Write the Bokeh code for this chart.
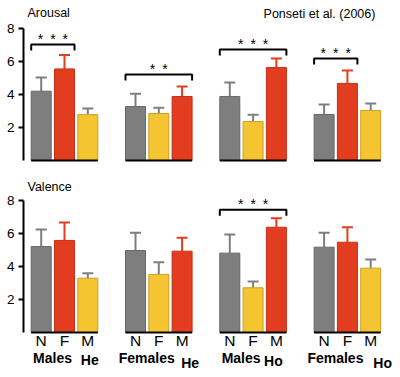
from bokeh.plotting import figure
from bokeh.layouts import column
from bokeh.models import Range1d, FixedTicker
from bokeh.core.properties import value
from bokeh.embed import file_html
from bokeh.resources import INLINE

# ---------------- data ----------------
conditions = ["N", "F", "M"]
groups = ["Males", "Females", "Males", "Females"]
stimuli = ["He", "He", "Ho", "Ho"]
# colour role of each bar (N, F, M) inside each group
bar_kind = [["gray", "red", "yellow"],
            ["gray", "yellow", "red"],
            ["gray", "yellow", "red"],
            ["gray", "red", "yellow"]]

arousal_mean = [[4.20, 5.55, 2.78], [3.27, 2.85, 3.88], [3.88, 2.36, 5.64], [2.79, 4.67, 3.03]]
arousal_err = [[0.83, 0.85, 0.37], [0.78, 0.35, 0.60], [0.85, 0.42, 0.54], [0.60, 0.78, 0.42]]
valence_mean = [[5.21, 5.58, 3.29], [4.97, 3.52, 4.93], [4.81, 2.71, 6.38], [5.17, 5.47, 3.90]]
valence_err = [[1.03, 1.09, 0.30], [1.07, 0.74, 0.81], [1.13, 0.38, 0.55], [0.87, 0.91, 0.52]]

# significance: group, first bar, last bar, stars, bracket height
arousal_sig = [(0, 0, 1, "* * *", 7.03), (1, 0, 2, "* *", 5.21),
               (2, 0, 2, "* * *", 6.73), (3, 0, 1, "* * *", 6.18)]
valence_sig = [(2, 0, 2, "* * *", 7.44)]

y_ticks = [2, 4, 6, 8]

# ---------------- style ----------------
FONT = "Liberation Sans"
fill = {"gray": "#7e7e7e", "red": "#e23d1f", "yellow": "#f4c531"}
edge = {"gray": "#686868", "red": "#c4301a", "yellow": "#c9a024"}
errc = {"gray": "#7e7e7e", "red": "#e23d1f", "yellow": "#808080"}

G0, GSTEP, BSTEP, BW = 64.0, 94.3, 23.3, 20.0
PX = 16.5  # pixels per unit


def bar_x(g, j):
    return G0 + GSTEP * g + BSTEP * (j - 1)


def panel(means, errs, sig, height, ymin, ymax, title, labels):
    p = figure(width=400, height=height, x_range=Range1d(23, 400),
               y_range=Range1d(ymin, ymax), output_backend="svg",
               toolbar_location=None, x_axis_location=None,
               min_border_left=23, min_border_right=0,
               min_border_top=0, min_border_bottom=0)
    p.xgrid.visible = False
    p.ygrid.visible = False
    p.outline_line_color = None
    ax = p.yaxis[0]
    ax.ticker = FixedTicker(ticks=y_ticks)
    ax.bounds = (0, 8)
    ax.axis_line_width = 2
    ax.axis_line_color = "black"
    ax.major_tick_line_width = 2
    ax.major_tick_out = 5
    ax.major_tick_in = 0
    ax.minor_tick_line_color = None
    ax.major_label_text_font = FONT
    ax.major_label_text_font_size = "13.5px"
    ax.major_label_text_color = "black"
    ax.major_label_standoff = 4

    xs, tops, fills, lines = [], [], [], []
    ex, e0, e1, ec = [], [], [], []
    for g in range(4):
        for j in range(3):
            k = bar_kind[g][j]
            x = bar_x(g, j)
            xs.append(x)
            tops.append(means[g][j])
            fills.append(fill[k])
            lines.append(edge[k])
            ex.append(x)
            e0.append(means[g][j])
            e1.append(means[g][j] + errs[g][j])
            ec.append(errc[k])
    # error bars (drawn behind bars)
    p.segment(x0=ex, y0=e0, x1=ex, y1=e1, line_color=ec, line_width=2)
    p.segment(x0=[x - 5.5 for x in ex], y0=e1, x1=[x + 5.5 for x in ex], y1=e1,
              line_color=ec, line_width=2)
    p.vbar(x=xs, top=tops, bottom=0, width=BW, fill_color=fills,
           line_color=lines, line_width=1)
    # baselines
    p.segment(x0=[bar_x(g, 0) - BW / 2 for g in range(4)], y0=[0] * 4,
              x1=[bar_x(g, 2) + BW / 2 for g in range(4)], y1=[0] * 4,
              line_color="black", line_width=2)
    # significance brackets
    tick = 6 / PX
    for g, a, b, stars, h in sig:
        xa = bar_x(g, a) - BW / 2
        xb = bar_x(g, b) + BW / 2
        p.line(x=[xa, xa, xb, xb], y=[h - tick, h, h, h - tick],
               line_color="black", line_width=2)
        p.text(x=[(xa + xb) / 2], y=[h + 5.5 / PX], text=[stars.replace(" ", "\u2002")],
               text_font=value(FONT), text_font_size="14px",
               text_align="center", text_baseline="middle", text_color="black")
    # panel title
    p.text(x=[27], y=[title[1]], text=[title[0]], text_font=value(FONT),
           text_font_size="12.5px", text_align="left", text_baseline="middle",
           text_color="black")
    if labels:
        cx, cy, ct = [], [], []
        for g in range(4):
            for j in range(3):
                cx.append(bar_x(g, j))
                cy.append(-8 / PX)
                ct.append(conditions[j])
        p.text(x=cx, y=cy, text=ct, text_font=value(FONT), text_font_size="15.5px",
               text_align="center", text_baseline="middle", text_color="black")
        stim_dx = [2, 8, -3, 12]
        stim_dy = [27, 30, 28, 30]
        p.text(x=[G0 + GSTEP * g - 12 for g in range(4)], y=[-25 / PX] * 4,
               text=groups, text_font=value(FONT), text_font_size="14px",
               text_font_style="bold", text_align="center", text_baseline="middle",
               text_color="black")
        p.text(x=[bar_x(g, 2) + stim_dx[g] for g in range(4)],
               y=[-stim_dy[g] / PX for g in range(4)],
               text=stimuli, text_font=value(FONT), text_font_size="14px",
               text_font_style="bold", text_align="center", text_baseline="middle",
               text_color="black")
    return p


top = panel(arousal_mean, arousal_err, arousal_sig, 180, -20 / PX, 160 / PX,
            ("Arousal", 148 / PX), False)
top.text(x=[319], y=[147 / PX], text=["Ponseti et al. (2006)"], text_font=value(FONT),
         text_font_size="12.5px", text_align="center", text_baseline="middle",
         text_color="black")
bottom = panel(valence_mean, valence_err, valence_sig, 197, -45 / PX, 152 / PX,
               ("Valence", 146 / PX), True)

layout = column(top, bottom, spacing=0)
open("out.html", "w").write(file_html(layout, INLINE))
